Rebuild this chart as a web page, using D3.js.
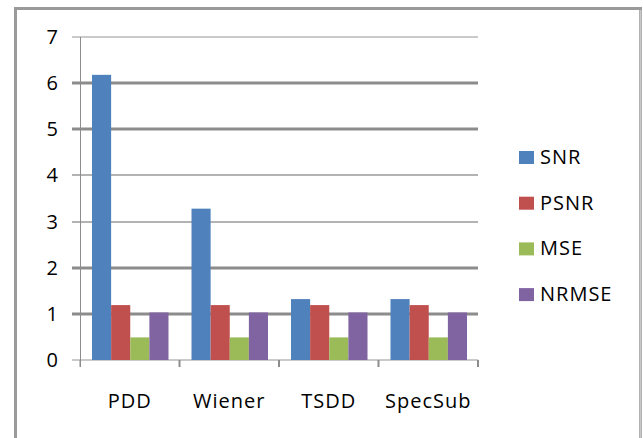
<!DOCTYPE html>
<html>
<head>
<meta charset="utf-8">
<script src="https://cdn.jsdelivr.net/npm/d3@7"></script>
<style>
  body { margin: 0; background: #fff; }
  text { font-family: "Open Sans", "Liberation Sans", sans-serif; fill: #000; }
</style>
</head>
<body>
<div id="chart"></div>
<script>
// data
var methods = ["PDD", "Wiener", "TSDD", "SpecSub"];
var series = ["SNR", "PSNR", "MSE", "NRMSE"];
var snr   = [6.18, 3.28, 1.32, 1.32];
var psnr  = [1.19, 1.19, 1.19, 1.19];
var mse   = [0.49, 0.49, 0.49, 0.49];
var nrmse = [1.03, 1.03, 1.03, 1.03];
var yTicks = [0, 1, 2, 3, 4, 5, 6, 7];

var values = [snr, psnr, mse, nrmse];
var colors = ["#4F81BD", "#C0504D", "#9BBB59", "#8064A2"];

var W = 643, H = 438;
var m = {left: 80, right: 165, top: 37, bottom: 78};
var w = W - m.left - m.right;
var h = H - m.top - m.bottom;

var svg = d3.select("#chart")
  .append("svg")
  .attr("width", W)
  .attr("height", H);

// outer frame
svg.append("path")
  .attr("d", "M15.5," + (H + 5) + "V8.5H640.5V" + (H + 5))
  .attr("fill", "none")
  .attr("stroke", "#9a9a9a")
  .attr("stroke-width", 3);
svg.append("line")
  .attr("x1", 640.5).attr("x2", 640.5)
  .attr("y1", 10).attr("y2", H)
  .attr("stroke", "#c8c8c8").attr("stroke-width", 2);

var g = svg.append("g")
  .attr("transform", "translate(" + m.left + "," + m.top + ")");

var x = d3.scaleBand().domain(methods).range([0, w]).paddingInner(0).paddingOuter(0);
var xs = d3.scaleBand().domain(series).range([12, x.bandwidth() - 11]);
var y = d3.scaleLinear().domain([0, 7]).range([h, 0]);

// gridlines
function gridWidth(d) {
  if (d === 0 || d === 7) return 1.5;
  if (d === 3 || d === 4) return 1.5;
  return 3;
}
function gridColor(d) {
  if (d === 0 || d === 7) return "#b8b8b8";
  if (d === 3 || d === 4) return "#9a9a9a";
  return "#8c8c8c";
}
g.append("g")
  .selectAll("line")
  .data(yTicks)
  .enter()
  .append("line")
  .attr("x1", -8)
  .attr("x2", w)
  .attr("y1", function(d) { return Math.round(y(d)); })
  .attr("y2", function(d) { return Math.round(y(d)); })
  .attr("stroke", gridColor)
  .attr("stroke-width", gridWidth);

// y axis line
g.append("line")
  .attr("x1", 0.5).attr("x2", 0.5)
  .attr("y1", 0).attr("y2", h + 7)
  .attr("stroke", "#8c8c8c").attr("stroke-width", 1);

// y tick labels
g.append("g")
  .selectAll("text")
  .data(yTicks)
  .enter()
  .append("text")
  .attr("x", -22)
  .attr("y", function(d) { return y(d) + 7; })
  .attr("text-anchor", "end")
  .style("font-size", "20px")
  .text(function(d) { return d; });

// bars
var grp = g.selectAll(".grp")
  .data(methods)
  .enter()
  .append("g")
  .attr("class", "grp")
  .attr("transform", function(d) { return "translate(" + x(d) + ",0)"; });

grp.selectAll("rect")
  .data(function(d, i) {
    return series.map(function(s, j) { return {s: s, v: values[j][i], c: colors[j]}; });
  })
  .enter()
  .append("rect")
  .attr("x", function(d) { return xs(d.s); })
  .attr("width", xs.bandwidth())
  .attr("y", function(d) { return y(d.v); })
  .attr("height", function(d) { return h - y(d.v); })
  .attr("fill", function(d) { return d.c; });

// x category ticks
g.append("g")
  .selectAll("line")
  .data(methods.concat([null]))
  .enter()
  .append("line")
  .attr("x1", function(d) { return d === null ? w : x(d); })
  .attr("x2", function(d) { return d === null ? w : x(d); })
  .attr("y1", h)
  .attr("y2", h + 7)
  .attr("stroke", "#8c8c8c")
  .attr("stroke-width", function(d, i) { return i === 0 ? 1 : 2; });

// x labels
g.append("g")
  .selectAll("text")
  .data(methods)
  .enter()
  .append("text")
  .attr("x", function(d) { return x(d) + x.bandwidth() / 2; })
  .attr("y", h + 48)
  .attr("text-anchor", "middle")
  .style("font-size", "20px")
  .style("letter-spacing", "1px")
  .text(function(d) { return d; });

// legend
var legend = svg.append("g")
  .attr("transform", "translate(519,151)");

var item = legend.selectAll("g")
  .data(series)
  .enter()
  .append("g")
  .attr("transform", function(d, i) { return "translate(0," + (i * 45.7) + ")"; });

item.append("rect")
  .attr("width", 15)
  .attr("height", 13)
  .attr("fill", function(d, i) { return colors[i]; });

item.append("text")
  .attr("x", 21)
  .attr("y", 13)
  .style("font-size", "20px")
  .style("letter-spacing", "1px")
  .text(function(d) { return d; });
</script>
</body>
</html>
